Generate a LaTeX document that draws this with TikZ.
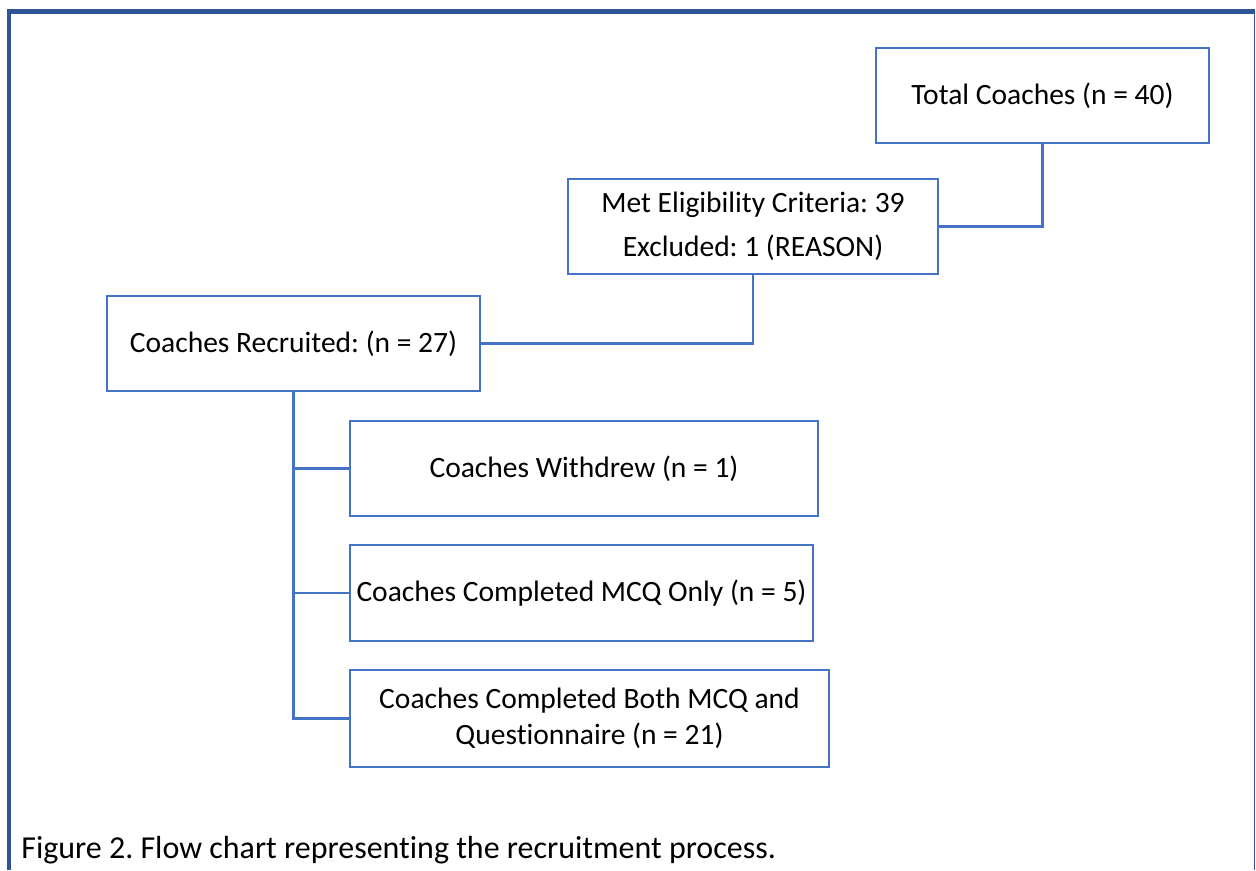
\documentclass[tikz,border=0pt]{standalone}
\usepackage{fontspec}
\setmainfont{Carlito}[Ligatures=NoCommon]
\usetikzlibrary{positioning}
\definecolor{boxblue}{HTML}{4472C4}
\definecolor{frameblue}{HTML}{2F5597}
\frenchspacing

\begin{document}
\begin{tikzpicture}[x=0.02cm,y=-0.02cm,
	box/.style={draw=boxblue,line width=1.3pt,inner sep=0pt,align=center,
		minimum height=1.9cm,font=\fontsize{16.8}{20.5}\selectfont},
	link/.style={draw=boxblue,line width=1.3pt}]
	\useasboundingbox (0,0) rectangle (1256,870);
	% outer frame, open at the bottom
	\draw[frameblue,line width=2.3pt] (9,870) -- (9,11.5) -- (1254.5,11.5);
	\draw[frameblue,line width=1.1pt] (1254.5,11.5) -- (1254.5,870);

	\node[box,minimum width=6.66cm] (total) at (1042.5,95.5) {Total Coaches (n = 40)};
	\node[box,minimum width=7.4cm,font=\fontsize{16.8}{25}\selectfont] (met) at (753,226.5)
		{Met Eligibility Criteria: 39\\Excluded: 1 (REASON)};
	\node[box,minimum width=7.46cm] (recruited) at (293.5,343.5) {Coaches Recruited: (n = 27)};
	\node[box,minimum width=9.36cm] (withdrew) at (584,468.5) {Coaches Withdrew (n = 1)};
	\node[box,minimum width=9.26cm,minimum height=1.92cm] (mcq) at (581.5,593)
		{Coaches Completed MCQ Only (n = 5)};
	\node[box,minimum width=9.58cm,minimum height=1.94cm] (both) at (589.5,718.5)
		{Coaches Completed Both MCQ and\\Questionnaire (n = 21)};

	\draw[link] (total.south) |- (met.east);
	\draw[link] (met.south) |- (recruited.east);
	\draw[link] (recruited.south) |- (both.west);
	\draw[link] (recruited.south) |- (withdrew.west);
	\draw[link] (recruited.south) |- (mcq.west);

	\node[anchor=base west,inner sep=0pt,font=\fontsize{18.2}{22}\selectfont] (caption) at (21,858)
		{Figure 2. Flow chart representing the recruitment process.};
\end{tikzpicture}
\end{document}
